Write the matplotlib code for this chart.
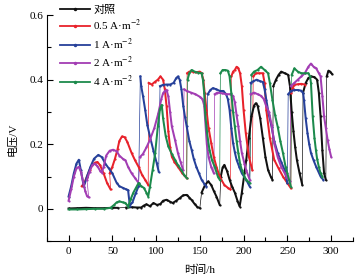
import numpy as np
import matplotlib
matplotlib.use("Agg")
import matplotlib.pyplot as plt
from matplotlib.ticker import MultipleLocator, FuncFormatter

plt.rcParams['font.family'] = ['Liberation Serif', 'Noto Sans CJK SC']
plt.rcParams['mathtext.fontset'] = 'stix'
plt.rcParams['axes.unicode_minus'] = False

nan = np.nan

labels = ['对照', '0.5 A·m$^{-2}$', '1 A·m$^{-2}$', '2 A·m$^{-2}$', '4 A·m$^{-2}$']
colors = ['#111111', '#e8222b', '#26409a', '#a23db3', '#1c8a4c']

# ---- control (black) ----
ctrl_t = [0, 10, 20, 30, 40, 50, 56, nan,
          66, 72, 78, 83, 86, 89, 93, 97, 101, 105, 108, 112, 116, 119, 123, 127, 131, 135, 138, 141, 144, 147, 150, nan,
          152, 156, 159.5, 163, 166, 169, 172.7, nan,
          174, 176, 178, 181, 184, 187, 190, 193, 195.5, 198, 201, 203, 206, 209, 212, 214, 216, 219, 222, 225, 228, 231, 233, nan,
          234, 237, 240, 243, 247, 251, 253, 255, 257, 259, 261, 264, 267, nan,
          268, 271, 274, 277, 281, 284, 286, 288, 290, 292, 294, nan,
          295, 297, 299, 301]
ctrl_v = [0.001, 0.002, 0.003, 0.002, 0.002, 0.003, 0.003, nan,
          0.004, 0.005, 0.004, 0.004, 0.010, 0.014, 0.008, 0.018, 0.012, 0.015, 0.025, 0.028, 0.022, 0.018, 0.025, 0.033, 0.042, 0.043, 0.035, 0.026, 0.015, 0.006, 0.002, nan,
          0.05, 0.074, 0.085, 0.074, 0.055, 0.038, 0.012, nan,
          0.10, 0.128, 0.136, 0.118, 0.09, 0.068, 0.05, 0.025, 0.007, 0.05, 0.11, 0.15, 0.22, 0.286, 0.32, 0.327, 0.32, 0.28, 0.22, 0.16, 0.12, 0.10, 0.09, nan,
          0.38, 0.40, 0.415, 0.425, 0.42, 0.415, 0.38, 0.30, 0.24, 0.19, 0.15, 0.11, 0.075, nan,
          0.36, 0.39, 0.405, 0.41, 0.408, 0.40, 0.36, 0.286, 0.183, 0.11, 0.09, nan,
          0.41, 0.428, 0.425, 0.418]

# ---- 0.5 A/m2 (red) ----
r05_t = [15, 18, 21, 24, 27, 30, 33, 36, 40, 44, 48, nan,
         47, 50, 53, 56, 58, 61, 64, 67, 72, 76, 80, 84, 87.5, 91, nan,
         91.5, 95, 99, 102, 105, 108, 110, 112, 114, 116, 118, 121, 125, 130, 135, nan,
         135.5, 138, 142, 146, 150, 152, 154, 155.5, 157.6, 160, 163, 166, 169, 172, 174.6, 178, 182, 185, nan,
         186, 188, 190, 192, 194, 196, 198, 200, 202.5, 206, 210, nan,
         211, 214, 218, 222, 224, 226, 230, 235, 240, 245, 250, 254, nan,
         254.5, 256, 258, 262, 266, 270]
r05_v = [0.07, 0.08, 0.10, 0.12, 0.135, 0.143, 0.145, 0.135, 0.11, 0.08, 0.06, nan,
         0.11, 0.13, 0.155, 0.185, 0.21, 0.224, 0.222, 0.208, 0.173, 0.15, 0.13, 0.105, 0.09, 0.074, nan,
         0.39, 0.385, 0.394, 0.40, 0.41, 0.40, 0.37, 0.317, 0.24, 0.19, 0.162, 0.145, 0.13, 0.11, 0.095, nan,
         0.42, 0.425, 0.425, 0.423, 0.425, 0.42, 0.40, 0.36, 0.306, 0.25, 0.204, 0.16, 0.13, 0.105, 0.09, 0.074, 0.065, 0.06, nan,
         0.41, 0.425, 0.43, 0.44, 0.435, 0.42, 0.38, 0.306, 0.235, 0.162, 0.12, nan,
         0.41, 0.42, 0.42, 0.42, 0.39, 0.306, 0.22, 0.152, 0.125, 0.10, 0.08, 0.064, nan,
         0.358, 0.375, 0.384, 0.386, 0.387, 0.385]

# ---- 1 A/m2 (blue) ----
r1_t = [0, 3, 6, 9, 11.7, 14, 17.4, 21, 25, 29, 34, 38, 42, 46, 50, 55, 58, 62, 66, 68, 70, 73, 77, 80, nan,
        82, 83, 85, 87.5, 90, 93, 97, 100.7, 103, nan,
        104.5, 108, 112, 116, 120, 123, 125, 127, 129, 131, 133, 135, 138, 140.6, 143, 146, 149, 152, 155, 157.6, nan,
        159, 162, 165, 169, 173, 177, 180, 182, 184, 186, 188, 190, 192, 195, 198, 203, 207, nan,
        208, 211, 215, 219, 222, 224, 226, 229, 232, 235, 239, 243, 247, 250, nan,
        251, 254, 258, 262, 266, 268, 269, 271, 273, 275, 277, 280, 283, 288, 291]
r1_v = [0.038, 0.07, 0.11, 0.14, 0.152, 0.12, 0.069, 0.10, 0.13, 0.155, 0.167, 0.16, 0.14, 0.125, 0.11, 0.08, 0.07, 0.065, 0.06, 0.058, 0.01, 0.02, 0.05, 0.07, nan,
        0.41, 0.38, 0.35, 0.307, 0.26, 0.224, 0.18, 0.142, 0.115, nan,
        0.38, 0.384, 0.385, 0.385, 0.39, 0.405, 0.41, 0.40, 0.37, 0.32, 0.285, 0.255, 0.21, 0.183, 0.155, 0.13, 0.11, 0.09, 0.078, 0.069, nan,
        0.355, 0.368, 0.374, 0.37, 0.365, 0.365, 0.355, 0.34, 0.306, 0.25, 0.204, 0.175, 0.152, 0.13, 0.11, 0.09, 0.069, nan,
        0.39, 0.395, 0.40, 0.395, 0.393, 0.37, 0.337, 0.29, 0.254, 0.21, 0.173, 0.145, 0.12, 0.08, nan,
        0.355, 0.365, 0.368, 0.368, 0.366, 0.36, 0.337, 0.28, 0.235, 0.20, 0.173, 0.15, 0.13, 0.10, 0.09]

# ---- 2 A/m2 (purple) ----
r2_t = [0, 3, 6, 9, 11.6, 14, 17, 19, 21, 23, nan,
        21, 24, 27, 30, 33, 36, 38, 40, 43, 47, 51, 55, 58, 62, 65, 68, 72, 76, 80, nan,
        81.5, 85, 89, 93, 98, 102.6, 106, 108, 110, 112, 114, 116, 118, 121.6, 125, 128, 131, nan,
        132, 135, 140, 145, 150, 153, 155, 156.5, 158, 160, 163, 166, nan,
        167, 170, 175, 180, 185, 188, 190, 192, 194, 196, 198, 201, 203, 207, nan,
        208, 212, 216, 220, 223, 226, 229, 232, 235, 239, 243, 247, 250, 253, nan,
        254, 258, 262, 266, 270, 274, 277, 280, 283, 286, 288, 290, 292, 294, 296, 298, 300]
r2_v = [0.025, 0.06, 0.10, 0.125, 0.13, 0.115, 0.08, 0.055, 0.04, 0.036, nan,
        0.09, 0.115, 0.135, 0.14, 0.132, 0.118, 0.112, 0.13, 0.165, 0.18, 0.183, 0.178, 0.165, 0.155, 0.15, 0.13, 0.11, 0.095, 0.08, nan,
        0.16, 0.17, 0.19, 0.214, 0.25, 0.296, 0.34, 0.358, 0.365, 0.368, 0.348, 0.30, 0.255, 0.214, 0.172, 0.145, 0.12, nan,
        0.37, 0.365, 0.36, 0.355, 0.347, 0.34, 0.32, 0.26, 0.20, 0.16, 0.13, 0.11, nan,
        0.355, 0.36, 0.358, 0.355, 0.355, 0.35, 0.33, 0.29, 0.255, 0.21, 0.173, 0.14, 0.12, 0.09, nan,
        0.355, 0.36, 0.355, 0.35, 0.34, 0.317, 0.30, 0.26, 0.204, 0.16, 0.13, 0.11, 0.095, 0.085, nan,
        0.38, 0.39, 0.40, 0.41, 0.42, 0.44, 0.45, 0.44, 0.435, 0.42, 0.41, 0.35, 0.286, 0.25, 0.214, 0.185, 0.162]

# ---- 4 A/m2 (green) ----
r4_t = [0, 10, 20, 30, 40, 48, 52, 55, 58, 62, 65, 68, 71, 74, 77, 80, 83, 86, 89, 91, 93, 96, 99, 102, 104.5, 106.5, 108, 111, 114, 118, 121.6, 125, 129, 132, 135, nan,
        136, 138, 140.5, 144, 148, 152, 153.5, 155, 156, 158, 161, 164, 167, 170.6, 172.7, nan,
        173.5, 176, 179, 182, 184, 186, 188, 190, 192, 194, 196, 198, 201, 203, 207, nan,
        209, 212, 216, 220, 224, 228, 230, 233, 236, 239, 242, 245, 248, 250, 252, 254, nan,
        255, 258, 262, 266, 270, 274, 276, 277, 279, 281, 282.6, 284, 286, 288, 290]
r4_v = [-0.002, -0.002, -0.001, 0.0, 0.0, 0.003, 0.012, 0.02, 0.023, 0.02, 0.018, 0.007, 0.03, 0.05, 0.065, 0.08, 0.07, 0.065, 0.05, 0.038, 0.069, 0.12, 0.173, 0.255, 0.31, 0.322, 0.28, 0.225, 0.193, 0.17, 0.152, 0.135, 0.12, 0.105, 0.095, nan,
        0.40, 0.42, 0.43, 0.425, 0.422, 0.42, 0.40, 0.358, 0.30, 0.24, 0.183, 0.15, 0.13, 0.10, 0.09, nan,
        0.42, 0.43, 0.43, 0.428, 0.41, 0.358, 0.30, 0.255, 0.21, 0.173, 0.14, 0.12, 0.10, 0.09, 0.08, nan,
        0.415, 0.425, 0.43, 0.44, 0.43, 0.42, 0.39, 0.337, 0.29, 0.254, 0.21, 0.173, 0.13, 0.11, 0.09, 0.069, nan,
        0.415, 0.435, 0.425, 0.42, 0.42, 0.42, 0.41, 0.39, 0.286, 0.22, 0.183, 0.155, 0.13, 0.11, 0.10]

series = [(ctrl_t, ctrl_v), (r05_t, r05_v), (r1_t, r1_v), (r2_t, r2_v), (r4_t, r4_v)]

fig = plt.figure(figsize=(3.62, 2.80), dpi=100)
ax = fig.add_axes([0.129, 0.139, 0.846, 0.807])

for (t, v), c, lab in zip(series, colors, labels):
    t = np.asarray(t, float)
    v = np.asarray(v, float)
    # thin connectors across breaks (jumps)
    idx = np.where(np.isnan(t))[0]
    for i in idx:
        ax.plot([t[i - 1], t[i + 1]], [v[i - 1], v[i + 1]], color=c, lw=0.5, zorder=2)
    ax.plot(t, v, color=c, lw=1.45, marker='o', ms=1.6, mew=0, label=lab, zorder=3)

ax.set_xlim(-25, 325)
ax.set_ylim(-0.1, 0.6)
ax.xaxis.set_major_locator(MultipleLocator(50))
ax.xaxis.set_minor_locator(MultipleLocator(25))
ax.yaxis.set_major_locator(MultipleLocator(0.2))
ax.yaxis.set_minor_locator(MultipleLocator(0.1))
ax.yaxis.set_major_formatter(FuncFormatter(lambda y, p: '0' if abs(y) < 1e-9 else f'{y:.1f}'))
ax.xaxis.set_major_formatter(FuncFormatter(lambda x, p: f'{int(round(x))}'))
for s in ['top', 'right']:
    ax.spines[s].set_visible(False)
for s in ['left', 'bottom']:
    ax.spines[s].set_linewidth(0.8)
ax.tick_params(which='both', direction='in', labelsize=8, width=0.8)
ax.tick_params(which='major', length=4)
ax.tick_params(which='minor', length=3)
ax.tick_params(axis='x', pad=4)
ax.tick_params(axis='y', pad=2.5)

ax.set_ylabel('电压/V', fontsize=8)
ax.set_xlabel('时间/h', fontsize=8)
ax.yaxis.set_label_coords(-0.095, 0.45)
ax.xaxis.set_label_coords(0.5, -0.105)

leg = ax.legend(loc='upper left', bbox_to_anchor=(0.045, 1.045), frameon=False,
                fontsize=8, handlelength=2.7, handletextpad=0.25, labelspacing=0.3,
                borderpad=0, borderaxespad=0, numpoints=1)
for h in leg.legend_handles:
    h.set_linewidth(1.3)
    h.set_markersize(2.5)

fig.savefig('out.png', dpi=100)
